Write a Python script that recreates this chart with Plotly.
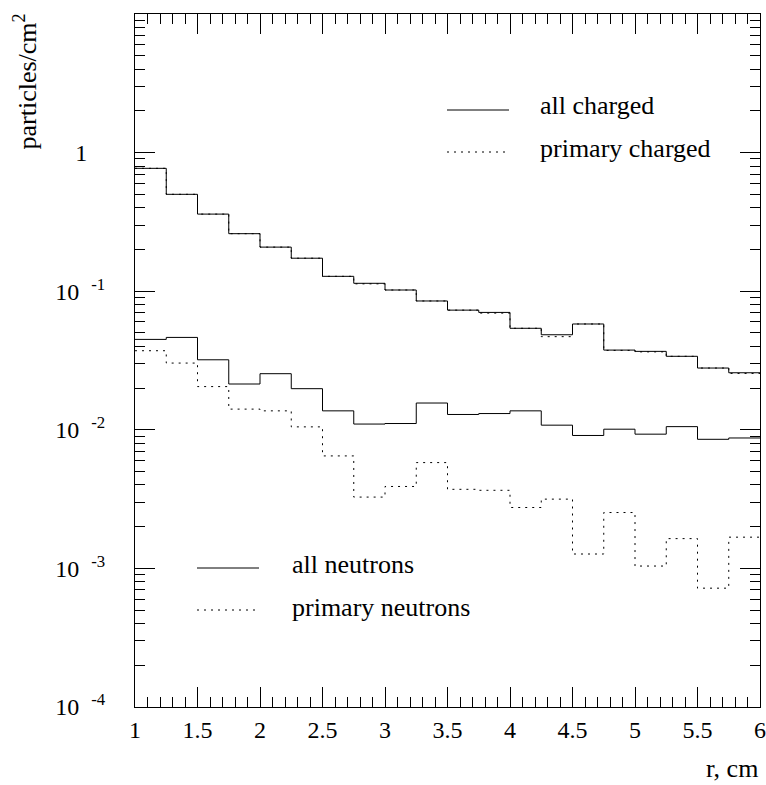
import plotly.graph_objects as go

# ---- data ----
r_edges = [1.0, 1.25, 1.5, 1.75, 2.0, 2.25, 2.5, 2.75, 3.0, 3.25, 3.5,
           3.75, 4.0, 4.25, 4.5, 4.75, 5.0, 5.25, 5.5, 5.75, 6.0]
all_charged = [0.77, 0.50, 0.36, 0.26, 0.208, 0.173, 0.128, 0.114, 0.102, 0.085,
               0.073, 0.0703, 0.054, 0.0485, 0.058, 0.0376, 0.0368, 0.0339, 0.0279, 0.0258]
primary_charged = [0.77, 0.50, 0.36, 0.26, 0.208, 0.173, 0.128, 0.113, 0.102, 0.085,
                   0.073, 0.0695, 0.054, 0.047, 0.058, 0.0374, 0.0365, 0.0339, 0.0279, 0.0255]
all_neutrons = [0.0449, 0.0464, 0.032, 0.0214, 0.0254, 0.0198, 0.0137, 0.0110, 0.0111, 0.0156,
                0.0129, 0.0131, 0.0137, 0.0108, 0.0091, 0.0101, 0.0093, 0.01054, 0.00854, 0.00873]
primary_neutrons = [0.0372, 0.0303, 0.0205, 0.0141, 0.0137, 0.0105, 0.00648, 0.00327, 0.0039, 0.0058,
                    0.00372, 0.00366, 0.00275, 0.00316, 0.00127, 0.00253, 0.00104, 0.00164, 0.00072, 0.00168]

x_ticks = [1, 1.5, 2, 2.5, 3, 3.5, 4, 4.5, 5, 5.5, 6]
x_ticktext = ["1", "1.5", "2", "2.5", "3", "3.5", "4", "4.5", "5", "5.5", "6"]
y_ticks = [1e-4, 1e-3, 1e-2, 1e-1, 1]
y_ticktext = ["10&nbsp;&nbsp;<sup>-4</sup>", "10&nbsp;&nbsp;<sup>-3</sup>", "10&nbsp;&nbsp;<sup>-2</sup>",
              "10&nbsp;&nbsp;<sup>-1</sup>", "1&nbsp;&nbsp;&nbsp;"]

legend_charged = ["all charged", "primary charged"]
legend_neutrons = ["all neutrons", "primary neutrons"]

FONT = "Liberation Serif, Times New Roman, Times, serif"
DOT = "2px,5px"
TXT = 26
TICK = 24

fig = go.Figure()


def step(vals, dash):
    fig.add_trace(go.Scatter(
        x=r_edges, y=list(vals) + [vals[-1]], mode="lines", line_shape="hv",
        line=dict(color="black", width=1, dash=dash), showlegend=False,
        hoverinfo="skip"))


step(all_charged, "solid")
step(primary_charged, DOT)
step(all_neutrons, "solid")
step(primary_neutrons, DOT)

# plot area geometry in pixels (for legend/text placement)
L, R, T, B = 135, 760, 14, 707
W, H = R - L, B - T


def px(xp):
    return (xp - L) / W


def py(yp):
    return (B - yp) / H


# legends drawn as key lines + text
legend_items = [
    (legend_charged[0], "solid", 447, 509, 110, 538, 106),
    (legend_charged[1], DOT, 447, 509, 152, 538, 148),
    (legend_neutrons[0], "solid", 197, 259, 568, 290, 564),
    (legend_neutrons[1], DOT, 197, 259, 610, 290, 607),
]
for text, dash, x0, x1, yl, xt, yt in legend_items:
    fig.add_shape(type="line", xref="paper", yref="paper",
                  x0=px(x0), x1=px(x1), y0=py(yl), y1=py(yl),
                  line=dict(color="black", width=1, dash=dash))
    fig.add_annotation(xref="paper", yref="paper", x=px(xt), y=py(yt),
                       xanchor="left", yanchor="middle", text=text, showarrow=False,
                       font=dict(family=FONT, size=TXT, color="black"))

# axis titles
fig.add_annotation(xref="paper", yref="paper", x=px(8), y=py(12),
                   xanchor="left", yanchor="top", text="particles/cm<sup>2</sup>",
                   textangle=-90, showarrow=False,
                   font=dict(family=FONT, size=TXT, color="black"))
fig.add_annotation(xref="paper", yref="paper", x=px(760), y=py(768),
                   xanchor="right", yanchor="middle", text="r, cm",
                   showarrow=False, font=dict(family=FONT, size=TXT, color="black"))

fig.update_xaxes(
    range=[1, 6], tickvals=x_ticks, ticktext=x_ticktext,
    ticks="inside", ticklen=20, tickwidth=1, tickcolor="black",
    minor=dict(ticks="inside", ticklen=10, dtick=0.1, tickwidth=1, tickcolor="black", showgrid=False),
    showline=True, linecolor="black", linewidth=1, mirror="allticks",
    showgrid=False, zeroline=False, ticklabelstandoff=1, automargin=False,
    tickfont=dict(family=FONT, size=TICK, color="black"))
fig.update_yaxes(
    type="log", range=[-4, 1], tickvals=y_ticks, ticktext=y_ticktext,
    ticks="inside", ticklen=20, tickwidth=1, tickcolor="black",
    minor=dict(ticks="inside", ticklen=10, dtick="D1", tickwidth=1, tickcolor="black", showgrid=False),
    showline=True, linecolor="black", linewidth=1, mirror="allticks",
    showgrid=False, zeroline=False, ticklabelstandoff=24, automargin=False,
    tickfont=dict(family=FONT, size=TICK, color="black"))

fig.update_layout(
    width=766, height=785,
    margin=dict(l=L, r=766 - R, t=T, b=785 - B, autoexpand=False),
    paper_bgcolor="white", plot_bgcolor="white",
    font=dict(family=FONT, color="black"),
)

fig.write_html("out.html")
